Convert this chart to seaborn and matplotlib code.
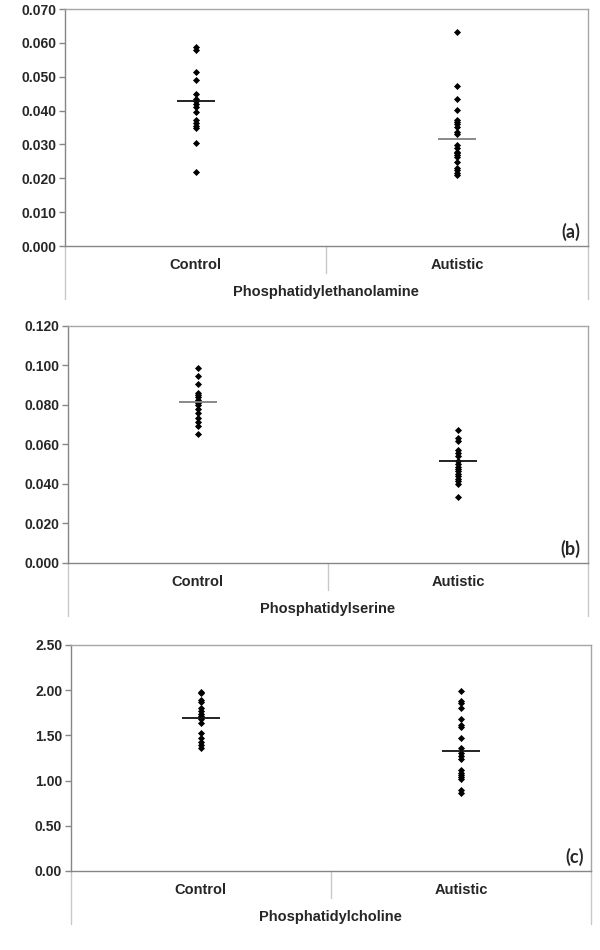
import numpy as np
import pandas as pd
import matplotlib
matplotlib.use("Agg")
import matplotlib.pyplot as plt
import matplotlib.ticker as ticker
import seaborn as sns

# --- Data ---
GROUPS = ["Control", "Autistic"]
TITLES = ["Phosphatidylethanolamine", "Phosphatidylserine", "Phosphatidylcholine"]
TAGS = ["(a)", "(b)", "(c)"]

PE_CONTROL = [0.0589, 0.0578, 0.0515, 0.0489, 0.0450, 0.0435, 0.0427, 0.0419,
              0.0410, 0.0397, 0.0372, 0.0364, 0.0356, 0.0349, 0.0303, 0.0218]
PE_AUTISTIC = [0.0631, 0.0472, 0.0434, 0.0403, 0.0372, 0.0366, 0.0360, 0.0353,
               0.0336, 0.0332, 0.0298, 0.0290, 0.0279, 0.0274, 0.0268, 0.0262,
               0.0247, 0.0230, 0.0224, 0.0217, 0.0210]
PE_MEANS = [0.0429, 0.0317]

PS_CONTROL = [0.0989, 0.0945, 0.0904, 0.0860, 0.0850, 0.0840, 0.0826, 0.0810,
              0.0798, 0.0781, 0.0759, 0.0735, 0.0713, 0.0691, 0.0651]
PS_AUTISTIC = [0.0671, 0.0634, 0.0620, 0.0570, 0.0556, 0.0544, 0.0515, 0.0502,
               0.0488, 0.0477, 0.0465, 0.0451, 0.0438, 0.0426, 0.0414, 0.0401,
               0.0336]
PS_MEANS = [0.0815, 0.0515]

PC_CONTROL = [1.983, 1.970, 1.891, 1.865, 1.798, 1.769, 1.739, 1.710, 1.680,
              1.632, 1.521, 1.473, 1.429, 1.392, 1.355]
PC_AUTISTIC = [1.991, 1.884, 1.855, 1.807, 1.685, 1.615, 1.590, 1.468, 1.357,
               1.302, 1.272, 1.236, 1.117, 1.087, 1.062, 1.036, 1.014, 0.896,
               0.860]
PC_MEANS = [1.688, 1.327]

Y_MAX = [0.07, 0.12, 2.5]
Y_STEP = [0.01, 0.02, 0.5]
Y_FMT = ["%.3f", "%.3f", "%.2f"]
MEAN_COLORS = [["#111111", "#808080"], ["#808080", "#111111"], ["#111111", "#111111"]]

# axes rectangles (fig fraction) matching the reference layout
AX_RECTS = [[0.108, 0.741, 0.872, 0.2495],
            [0.113, 0.4074, 0.867, 0.2495],
            [0.1175, 0.0832, 0.868, 0.238]]

sns.set_theme(style="white")
plt.rcParams['font.family'] = ['Liberation Sans', 'DejaVu Sans']

panels = [(PE_CONTROL, PE_AUTISTIC, PE_MEANS),
          (PS_CONTROL, PS_AUTISTIC, PS_MEANS),
          (PC_CONTROL, PC_AUTISTIC, PC_MEANS)]

fig = plt.figure(figsize=(6, 9.5), dpi=100)

for i, (ctrl, aut, means) in enumerate(panels):
    ax = fig.add_axes(AX_RECTS[i])
    df = pd.DataFrame({
        'Group': ['Control'] * len(ctrl) + ['Autistic'] * len(aut),
        'Value': ctrl + aut,
    })
    sns.stripplot(data=df, x='Group', y='Value', order=GROUPS, jitter=False,
                  marker='D', color='black', size=3.6, linewidth=0, ax=ax)

    # mean bars
    for j, m in enumerate(means):
        ax.hlines(m, j - 0.073, j + 0.073, color=MEAN_COLORS[i][j], linewidth=1.3, zorder=3)

    ax.set_xlim(-0.5, 1.5)
    ax.set_ylim(0, Y_MAX[i])
    ax.yaxis.set_major_locator(ticker.MultipleLocator(Y_STEP[i]))
    ax.yaxis.set_major_formatter(ticker.FormatStrFormatter(Y_FMT[i]))
    ax.set_xlabel("")
    ax.set_ylabel("")

    for side in ['top', 'right']:
        ax.spines[side].set_color('#a6a6a6')
        ax.spines[side].set_linewidth(1.0)
    ax.spines['left'].set_color('#868686')
    ax.spines['bottom'].set_color('#868686')
    ax.spines['left'].set_linewidth(1.0)
    ax.spines['bottom'].set_linewidth(1.0)

    ax.tick_params(axis='y', direction='out', length=4, width=1, color='#868686',
                   labelsize=10, pad=2, left=True)
    ax.tick_params(axis='x', length=0, pad=8.5, labelsize=10.5)
    for lab in ax.get_yticklabels() + ax.get_xticklabels():
        lab.set_fontweight('bold')

    # Excel-style category area below the axis
    hpx = ax.bbox.height
    for x0, depth in [(0.0, 53), (0.5, 27), (1.0, 53)]:
        ax.plot([x0, x0], [0, -depth / hpx], transform=ax.transAxes, color='#c8c8c8',
                linewidth=1.0, clip_on=False)
    ax.text(0.5, -46 / hpx, TITLES[i], transform=ax.transAxes, ha='center', va='center',
            fontsize=10.5, fontweight='bold')

    ax.text(0.985, 14 / hpx, TAGS[i], transform=ax.transAxes, ha='right', va='center',
            fontsize=13, fontweight='bold', family=['Lato', 'DejaVu Sans'])

fig.savefig("out.png", dpi=100)
